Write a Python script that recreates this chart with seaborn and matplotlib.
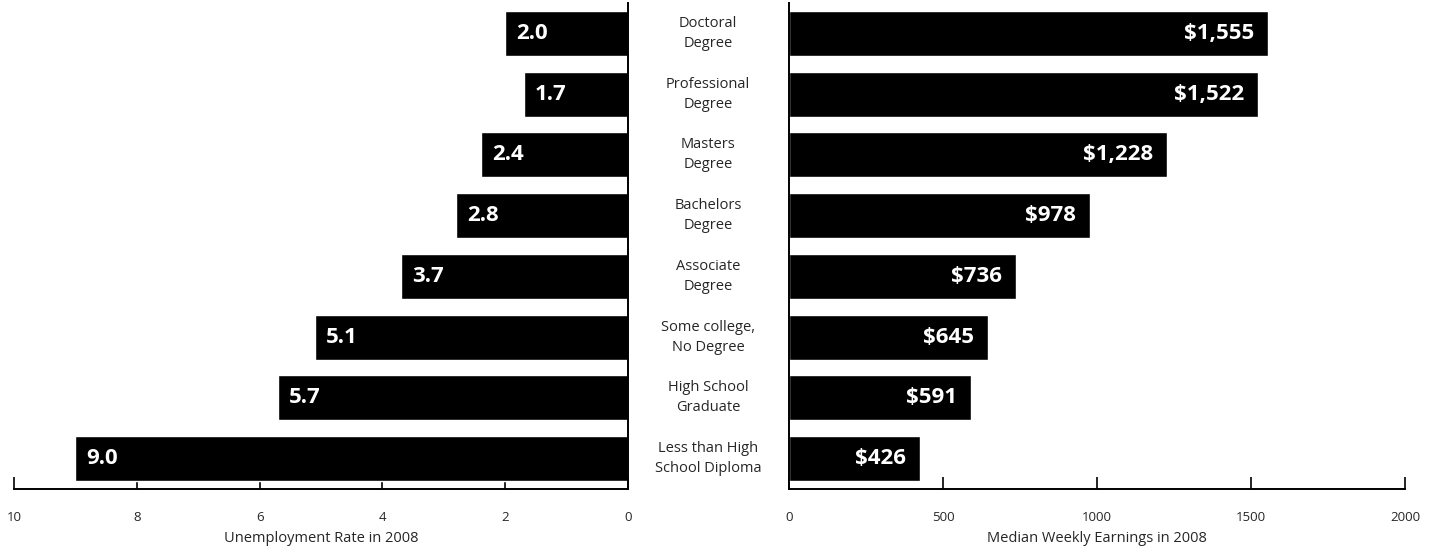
import matplotlib.pyplot as plt
import matplotlib.transforms as mtransforms
import seaborn as sns
import pandas as pd

sns.set_style("white")
plt.rcParams['font.family'] = ['Open Sans', 'DejaVu Sans']

education = ["Doctoral\nDegree", "Professional\nDegree", "Masters\nDegree", "Bachelors\nDegree",
             "Associate\nDegree", "Some college,\nNo Degree", "High School\nGraduate",
             "Less than High\nSchool Diploma"]
unemployment = [2.0, 1.7, 2.4, 2.8, 3.7, 5.1, 5.7, 9.0]
earnings = [1555, 1522, 1228, 978, 736, 645, 591, 426]
earn_labels = ["$1,555", "$1,522", "$1,228", "$978", "$736", "$645", "$591", "$426"]

df = pd.DataFrame({"education": education, "unemployment": unemployment, "earnings": earnings})

fig = plt.figure(figsize=(14.36, 5.52), dpi=100)
ax_l = fig.add_axes([0.00975, 0.1141, 0.4276, 0.8805])
ax_r = fig.add_axes([0.5494, 0.1141, 0.4290, 0.8805])

sns.barplot(data=df, y="education", x="unemployment", orient="h", color="black",
            width=0.74, saturation=1, ax=ax_l)
sns.barplot(data=df, y="education", x="earnings", orient="h", color="black",
            width=0.74, saturation=1, ax=ax_r)

ax_l.set_xlim(10, 0)
ax_r.set_xlim(0, 2000)
for ax in (ax_l, ax_r):
    ax.set_ylim(7.5, -0.5)
    ax.set_yticks([])
    ax.set_ylabel("")
    ax.spines['top'].set_visible(False)
    ax.tick_params(axis='x', direction='in', length=9, width=1.2, pad=16, labelsize=9.5,
                   bottom=True, color='black')
    for s in ax.spines.values():
        s.set_linewidth(1.4)
        s.set_color('black')

ax_l.spines['left'].set_visible(False)
ax_l.spines['right'].set_visible(True)
ax_r.spines['right'].set_visible(False)
ax_l.set_xticks([10, 8, 6, 4, 2, 0])
ax_r.set_xticks([0, 500, 1000, 1500, 2000])

ax_l.set_xlabel("Unemployment Rate in 2008", fontsize=10.5, labelpad=5)
ax_r.set_xlabel("Median Weekly Earnings in 2008", fontsize=10.5, labelpad=5)

# value labels inside bars
for i, v in enumerate(unemployment):
    ax_l.text(v - 0.18, i, f"{v:.1f}", color="white", fontweight="bold", fontsize=16,
              ha="left", va="center")
for i, v in enumerate(earnings):
    ax_r.text(v - 45, i, earn_labels[i], color="white", fontweight="bold", fontsize=16,
              ha="right", va="center")

# category labels in the middle
trans = mtransforms.blended_transform_factory(fig.transFigure, ax_r.transData)
for i, lab in enumerate(education):
    ax_r.text(0.493, i, lab, transform=trans, ha="center", va="center",
              fontsize=10.5, linespacing=1.45, clip_on=False)

fig.savefig("out.png", dpi=100)
